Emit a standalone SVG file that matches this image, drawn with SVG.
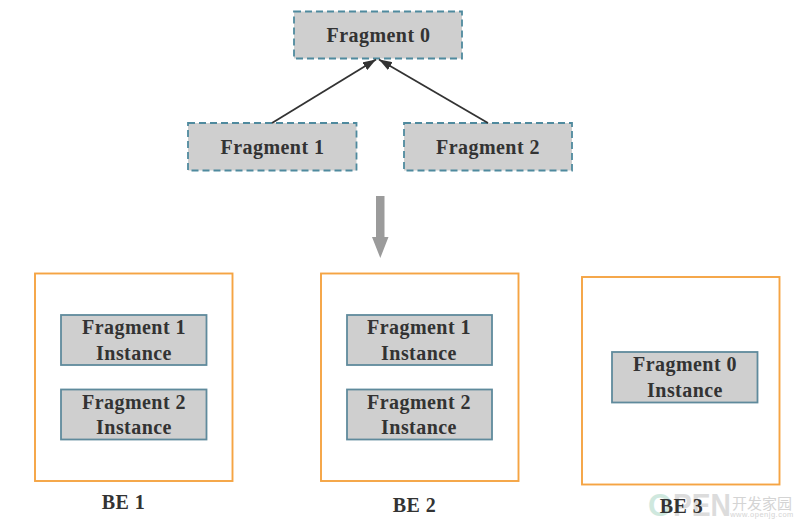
<svg xmlns="http://www.w3.org/2000/svg" width="799" height="526" viewBox="0 0 799 526">
<style>
text{font-family:"Liberation Serif","Times New Roman",serif;font-weight:700;fill:#333;text-anchor:middle}
.t{font-size:20px;letter-spacing:.45px}
.d{fill:#cfcfcf;stroke:#4f8a9e;stroke-width:1.8;stroke-dasharray:7 4}
.s{fill:#cfcfcf;stroke:#5f8a9c;stroke-width:1.8}
.o{fill:#fff;stroke:#f5a443;stroke-width:1.9}
.c{stroke:#333;stroke-width:1.8;fill:none;marker-end:url(#a)}
.w{font-family:"Liberation Sans",sans-serif}
</style>
<defs><marker id="a" markerUnits="userSpaceOnUse" markerWidth="13" markerHeight="9" refX="13" refY="4.5" orient="auto" viewBox="0 0 13 9"><path d="M0 0L13 4.5L0 9Z" fill="#333"/></marker></defs>
<rect width="799" height="526" fill="#fff"/>
<g id="fragment0"><rect class="d" x="294" y="11.500" width="168" height="47"/><text class="t" x="378.500" y="41.500">Fragment 0</text></g>
<g id="fragment1"><rect class="d" x="188" y="123" width="168.500" height="47.500"/><text class="t" x="272.500" y="153.500">Fragment 1</text></g>
<g id="fragment2"><rect class="d" x="404" y="123" width="168" height="47.500"/><text class="t" x="488" y="153.500">Fragment 2</text></g>
<g id="be1"><rect class="o" x="35" y="273.500" width="197.500" height="207.500"/><text class="t" x="123.500" y="508.500">BE 1</text></g>
<g id="be1-f1"><rect class="s" x="61" y="315" width="145.500" height="50"/><text class="t" x="134" y="333.500">Fragment 1</text><text class="t" x="134" y="359.500">Instance</text></g>
<g id="be1-f2"><rect class="s" x="61" y="389.500" width="145.500" height="50"/><text class="t" x="134" y="408.500">Fragment 2</text><text class="t" x="134" y="434">Instance</text></g>
<g id="be2"><rect class="o" x="321" y="273.500" width="197.500" height="207.500"/><text class="t" x="414.500" y="512">BE 2</text></g>
<g id="be2-f1"><rect class="s" x="347" y="315" width="145" height="50"/><text class="t" x="419" y="333.500">Fragment 1</text><text class="t" x="419" y="359.500">Instance</text></g>
<g id="be2-f2"><rect class="s" x="347" y="389.500" width="145" height="50"/><text class="t" x="419" y="408.500">Fragment 2</text><text class="t" x="419" y="434">Instance</text></g>
<g id="be3"><rect class="o" x="582" y="277" width="197.500" height="207.500"/></g>
<g id="be3-f0"><rect class="s" x="612" y="352" width="145.500" height="50.500"/><text class="t" x="685" y="371">Fragment 0</text><text class="t" x="685" y="397">Instance</text></g>
<g id="connectors">
<path class="c" d="M272 123L376 59.500"/>
<path class="c" d="M488 123L379 59.500"/>
<path d="M376 196H384.500V237H388.500L380.300 258L372 237H376Z" fill="#9b9b9b"/>
</g>
<g id="watermark">
<text class="w" x="660" y="516" style="font-size:31px;fill:#cfe8de">O</text>
<text class="w" x="702" y="516" style="font-size:31px;fill:#dcdcdc" textLength="58" lengthAdjust="spacingAndGlyphs">PEN</text>
<text x="762" y="509" style="font-family:'Noto Sans CJK SC',sans-serif;font-size:15px;font-weight:400;fill:#d4d4d4">开发家园</text>
<text class="w" x="762" y="517" style="font-size:7.500px;font-weight:400;fill:#d4d4d4;letter-spacing:.5px">www.openjg.com</text>
</g>
<text class="t" x="681.500" y="512.500">BE 3</text>
</svg>
